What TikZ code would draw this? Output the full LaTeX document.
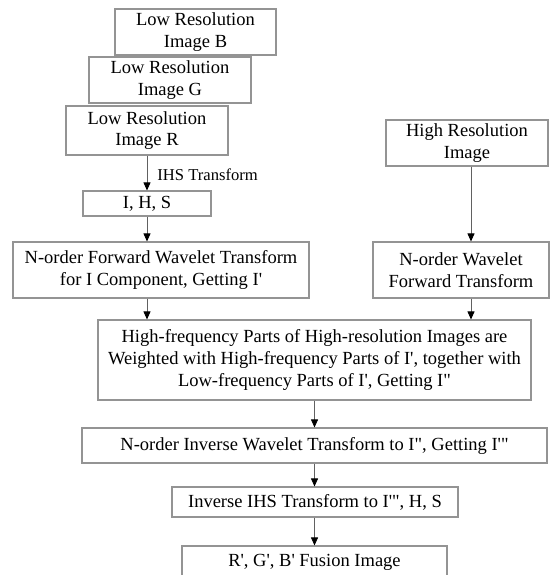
\documentclass[tikz,border=0pt]{standalone}
\usepackage{fontspec}
\setmainfont{Liberation Serif}[Ligatures=TeXOff]
\usetikzlibrary{arrows.meta}

\tikzset{
  stagebox/.style={draw=black!42, line width=1.1pt, inner sep=0pt, align=center,
    font=\fontsize{18.5}{21.7}\selectfont},
  flow/.style={draw=black!62, line width=0.8pt,
    -{Triangle[length=8pt, width=7pt, color=black]}},
  steplabel/.style={font=\fontsize{16.6}{19}\selectfont, inner sep=0pt, anchor=west}
}

\begin{document}
\begin{tikzpicture}[x=1pt, y=-1pt]
\useasboundingbox (0,0) rectangle (550,575);
\clip (0,0) rectangle (550,575);

% input images
\node[stagebox, minimum width=161pt, minimum height=46pt] (B) at (195.5,32) {Low Resolution\\Image B};
\node[stagebox, minimum width=162pt, minimum height=46pt] (G) at (170,80) {Low Resolution\\Image G};
\node[stagebox, minimum width=162pt, minimum height=49pt] (R) at (147,130.5) {Low Resolution\\Image R};
\node[stagebox, minimum width=162pt, minimum height=46pt] (HR) at (467,143) {High Resolution\\Image};

% left branch
\node[stagebox, minimum width=128pt, minimum height=25pt] (IHS) at (147,203.5) {I, H, S};
\node[stagebox, minimum width=296pt, minimum height=56pt] (FWD) at (161,270) {N-order Forward Wavelet Transform\\for I Component, Getting I'};

% right branch
\node[stagebox, minimum width=176pt, minimum height=56pt] (WV) at (461,270) {N-order Wavelet\\Forward Transform};

% fusion chain
\node[stagebox, minimum width=433pt, minimum height=80pt] (BIG) at (314.5,360) {High-frequency Parts of High-resolution Images are\\Weighted with High-frequency Parts of I', together with\\Low-frequency Parts of I', Getting I"};
\node[stagebox, minimum width=465pt, minimum height=35pt] (INVW) at (314.5,445.5) {N-order Inverse Wavelet Transform to I", Getting I'"};
\node[stagebox, minimum width=286pt, minimum height=30pt] (INVIHS) at (315,502) {Inverse IHS Transform to I'", H, S};
\node[stagebox, minimum width=265pt, minimum height=32pt] (OUT) at (314.5,562) {R', G', B' Fusion Image};

% column positions of the vertical connectors
\coordinate (lx) at (147,0);
\coordinate (rx) at (471,0);
\coordinate (cx) at (314.5,0);

\draw[flow] (R.south) -- (IHS.north)
  node[steplabel, pos=0.55, xshift=10pt] {IHS Transform};
\draw[flow] (IHS.south) -- (IHS.south |- FWD.north);
\draw[flow] (FWD.south -| lx) -- (BIG.north -| lx);
\draw[flow] (HR.south -| rx) -- (WV.north -| rx);
\draw[flow] (WV.south -| rx) -- (BIG.north -| rx);
\draw[flow] (BIG.south -| cx) -- (INVW.north -| cx);
\draw[flow] (INVW.south -| cx) -- (INVIHS.north -| cx);
\draw[flow] (INVIHS.south -| cx) -- (OUT.north -| cx);
\end{tikzpicture}
\end{document}
